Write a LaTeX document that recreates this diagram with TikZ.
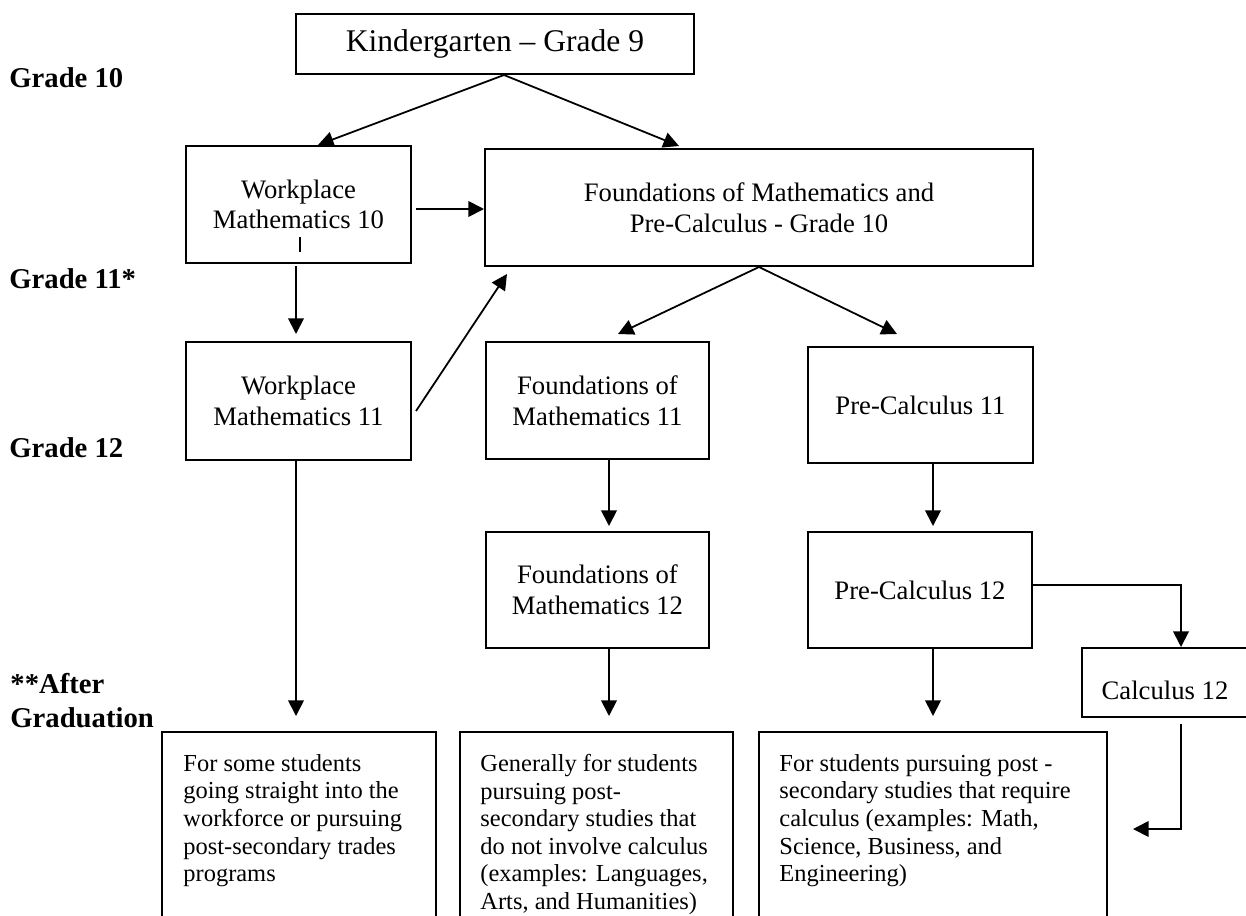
\documentclass[tikz,border=0pt]{standalone}
\usepackage{fontspec}
\setmainfont{Liberation Serif}
\usetikzlibrary{arrows.meta,calc}
\begin{document}
\begin{tikzpicture}[x=0.45pt,y=-0.45pt,
  box/.style={draw,line width=0.9pt,rectangle,inner sep=0pt,align=center,font=\fontsize{12}{13.8}\selectfont},
  arr/.style={line width=0.8pt,-{Triangle[length=7pt,width=7pt]}},
  lab/.style={anchor=base west,inner sep=0pt,font=\bfseries\fontsize{12.9}{15.2}\selectfont},
  body/.style={anchor=north west,inner sep=0pt,align=left,font=\fontsize{11}{12.4}\selectfont}]
\useasboundingbox (0,0) rectangle (1246,915);
\clip (0,0) rectangle (1246,915);

% left labels
\node[lab] (g10) at (9,87) {Grade 10};
\node[lab] (g11) at (9,288) {Grade 11*};
\node[lab] (g12) at (9,457) {Grade 12};
\node[lab] (aft) at (10,693) {**After};
\node[lab] (grad) at (10,727) {Graduation};

% boxes
\node[box,minimum width=398*0.45pt,minimum height=60*0.45pt,font=\fontsize{14.2}{16}\selectfont] (k) at (495,44) {Kindergarten – Grade 9};
\node[box,minimum width=225*0.45pt,minimum height=117*0.45pt] (w10) at (298.5,204.5) {Workplace\\Mathematics 10};
\node[box,minimum width=548*0.45pt,minimum height=117*0.45pt] (f10) at (759,207.5) {Foundations of Mathematics and\\Pre-Calculus - Grade 10};
\node[box,minimum width=225*0.45pt,minimum height=118*0.45pt] (w11) at (298.5,401) {Workplace\\Mathematics 11};
\node[box,minimum width=223*0.45pt,minimum height=117*0.45pt] (f11) at (597.5,400.5) {Foundations of\\Mathematics 11};
\node[box,minimum width=225*0.45pt,minimum height=116*0.45pt] (pc11) at (920.5,405) {Pre-Calculus 11};
\node[box,minimum width=223*0.45pt,minimum height=116*0.45pt] (f12) at (597.5,590) {Foundations of\\Mathematics 12};
\node[box,minimum width=224*0.45pt,minimum height=116*0.45pt] (pc12) at (920,590) {Pre-Calculus 12};
\node[box,minimum width=198*0.45pt,minimum height=69*0.45pt] (calc) at (1181,682.5) {};
\node[inner sep=0pt,font=\fontsize{12}{13.8}\selectfont] (calct) at (1165,690) {Calculus 12};

% small bar under Workplace Mathematics 10
\draw[line width=1pt] (300,237) -- (300,252);

% bottom boxes
\node[box,minimum width=274*0.45pt,minimum height=258*0.45pt] (b1) at (299,861) {};
\node[box,minimum width=273*0.45pt,minimum height=258*0.45pt] (b2) at (596.5,861) {};
\node[box,minimum width=348*0.45pt,minimum height=258*0.45pt] (b3) at (933,861) {};
\node[body] (b1t) at (183,754) {For some students\\going straight into the\\workforce or pursuing\\post-secondary trades\\programs};
\node[body] (b2t) at (480,754) {Generally for students\\pursuing post-\\secondary studies that\\do not involve calculus\\(examples: Languages,\\Arts, and Humanities)};
\node[body] (b3t) at (779,754) {For students pursuing post -\\secondary studies that require\\calculus (examples: Math,\\Science, Business, and\\Engineering)};

% connectors
\draw[arr] ($(k.south)+(9,0)$) -- ($(w10.north)+(19.5,0)$);
\draw[arr] ($(k.south)+(9,0)$) -- ($(f10.north)+(-80,-2)$);
\draw[arr] ($(w10.east)+(4,4.5)$) coordinate (t1) -- (f10.west |- t1);
\draw[arr] ($(w10.south)+(-2.5,2)$) coordinate (t2) -- ($(t2 |- w11.north)+(0,-7)$);
\draw[arr] ($(w11.east)+(4,10)$) -- ($(f10.south west)+(23,7)$);
\draw[arr] (f10.south) -- ($(f11.north)+(20.5,-7)$);
\draw[arr] (f10.south) -- ($(pc11.north)+(-23.5,-12)$);
\draw[arr] ($(f11.south)+(11.5,0)$) coordinate (t3) -- ($(t3 |- f12.north)+(0,-5)$);
\draw[arr] ($(pc11.south)+(12.5,0)$) coordinate (t4) -- ($(t4 |- pc12.north)+(0,-5)$);
\draw[arr] ($(w11.south)+(-2.5,0)$) coordinate (t5) -- ($(t5 |- b1.north)+(0,-15)$);
\draw[arr] ($(f12.south)+(11.5,0)$) coordinate (t6) -- ($(t6 |- b2.north)+(0,-15)$);
\draw[arr] ($(pc12.south)+(13,0)$) coordinate (t7) -- ($(t7 |- b3.north)+(0,-15)$);
\draw[arr] ($(pc12.east)+(0,-5)$) -| (calc.north);
\draw[arr] ($(calc.south)+(0,6)$) |- ($(b3.east)+(25,-32)$);
\end{tikzpicture}
\end{document}
